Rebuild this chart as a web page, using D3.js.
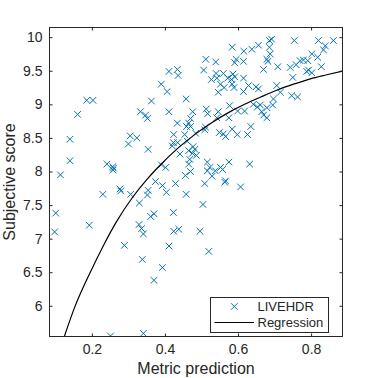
<!DOCTYPE html>
<html><head><meta charset="utf-8">
<script src="https://cdn.jsdelivr.net/npm/d3@7"></script>
<style>body{margin:0;background:#fff}svg{display:block}</style>
</head><body><svg id="c" width="378" height="378"></svg>
<script>
const metricPred = [
0.114,0.140,0.140,0.161,0.186,0.203,0.241,0.257,0.259,0.258,0.300,0.305,0.323,0.333,0.347,0.352,0.354,0.363,0.277,0.279,
0.230,0.306,0.101,0.098,0.193,0.330,0.352,0.354,0.329,0.336,0.341,0.361,0.370,0.289,0.338,0.251,0.341,
0.584,0.616,0.512,0.539,0.595,0.615,0.591,0.411,0.434,0.436,0.506,0.540,0.560,0.586,0.527,0.542,0.572,0.582,0.591,0.615,
0.552,0.584,0.589,0.562,0.546,0.615,0.390,0.406,0.458,0.411,0.476,0.513,0.517,0.546,0.577,0.575,0.599,0.470,0.542,0.434,
0.465,0.459,0.470,0.511,0.509,0.584,0.549,0.566,0.560,0.598,0.424,0.454,0.484,0.423,0.420,0.435,0.461,0.477,0.482,0.465,
0.441,0.475,0.486,0.468,0.465,0.516,0.575,0.523,0.552,0.558,0.516,0.538,0.402,0.390,0.470,0.456,0.529,0.566,0.374,0.393,
0.429,0.509,0.564,0.607,0.404,0.458,0.504,0.423,0.424,0.438,0.496,0.411,0.520,0.393,0.370,
0.754,0.686,0.692,0.820,0.861,0.656,0.638,0.686,0.688,0.839,0.834,0.679,0.682,0.670,0.709,0.743,0.759,0.770,0.779,0.791,
0.802,0.818,0.828,0.793,0.788,0.802,0.750,0.629,0.649,0.656,0.706,0.716,0.697,0.695,0.747,0.763,0.618,0.642,0.653,0.661,
0.665,0.679,0.670,0.679,0.635,0.626,0.632];
const subjectiveScore = [
7.95,8.16,8.48,8.85,9.06,9.06,8.11,8.07,8.05,8.02,8.41,8.53,8.50,8.89,8.84,8.79,8.33,9.05,7.74,7.71,
7.66,7.66,7.38,7.10,7.20,7.53,7.65,7.72,7.21,7.15,7.07,7.33,7.37,6.90,6.69,5.55,5.59,
9.85,9.79,9.67,9.63,9.67,9.64,9.62,9.49,9.52,9.43,9.51,9.46,9.46,9.45,9.37,9.39,9.39,9.37,9.41,9.39,
9.30,9.30,9.25,9.25,9.18,9.19,9.30,9.19,9.08,8.89,8.89,8.93,8.86,8.89,8.98,8.80,8.90,8.79,8.80,8.72,
8.72,8.67,8.67,8.66,8.62,8.63,8.58,8.52,8.56,8.55,8.55,8.55,8.57,8.43,8.38,8.43,8.45,8.37,8.33,8.31,
8.26,8.27,8.24,8.18,8.11,8.14,8.14,8.06,8.06,8.03,8.01,8.01,8.06,8.10,8.00,7.94,7.93,7.86,7.85,7.79,
7.82,7.82,7.84,7.77,7.69,7.66,7.51,7.39,7.11,7.14,7.11,6.89,6.81,6.57,6.38,
9.95,9.95,9.97,9.95,9.95,9.88,9.82,9.85,9.75,9.87,9.81,9.67,9.64,9.52,9.56,9.55,9.59,9.65,9.66,9.65,
9.75,9.70,9.56,9.51,9.49,9.47,9.40,9.28,9.26,9.23,9.28,9.18,9.08,8.99,9.13,9.11,8.90,9.00,8.96,8.99,
8.89,8.95,8.84,8.80,8.67,8.55,8.11];
const regressionX = [0.125,0.153,0.201,0.230,0.267,0.312,0.352,0.388,0.434,0.484,0.529,0.575,0.618,0.661,0.706,0.752,0.798,0.843,0.886];
const regressionY = [5.55,5.98,6.56,6.88,7.25,7.62,7.89,8.10,8.34,8.56,8.73,8.88,9.00,9.105,9.21,9.30,9.38,9.44,9.495];
const xTicks = [0.2,0.4,0.6,0.8];
const yTicks = [6,6.5,7,7.5,8,8.5,9,9.5,10];
const xLimits = [0.084,0.886];
const yLimits = [5.543,10.144];
const legendLabels = ["LIVEHDR","Regression"];

const svg = d3.select("#c");
const L=49.5,R=342.5,T=27.5,B=336.5;
const x = d3.scaleLinear().domain(xLimits).range([L,R]);
const y = d3.scaleLinear().domain(yLimits).range([B,T]);
const axisCol="#262626", font="'Liberation Sans', Arial, Helvetica, sans-serif";
const blue="#0072BD";

svg.append("defs").append("clipPath").attr("id","clip").append("rect")
  .attr("x",L).attr("y",T).attr("width",R-L).attr("height",B-T);

const plot = svg.append("g").attr("clip-path","url(#clip)");
const s=3.3;
plot.selectAll("path.pt").data(metricPred.map((v,i)=>[v,subjectiveScore[i]])).join("path")
  .attr("class","pt")
  .attr("d",d=>{const cx=x(d[0]),cy=y(d[1]);return `M${cx-s},${cy-s}L${cx+s},${cy+s}M${cx-s},${cy+s}L${cx+s},${cy-s}`;})
  .attr("stroke",blue).attr("stroke-width",1).attr("fill","none");

plot.append("path").datum(regressionX.map((v,i)=>[v,regressionY[i]]))
  .attr("d",d3.line().x(d=>x(d[0])).y(d=>y(d[1])).curve(d3.curveMonotoneX))
  .attr("fill","none").attr("stroke","#000").attr("stroke-width",1.2);

// axes
const tl=3;
const gx = svg.append("g").attr("transform",`translate(0,${B})`)
  .call(d3.axisBottom(x).tickValues(xTicks).tickSizeInner(-tl).tickSizeOuter(0).tickPadding(8).tickFormat(d=>String(d)));
const gy = svg.append("g").attr("transform",`translate(${L},0)`)
  .call(d3.axisLeft(y).tickValues(yTicks).tickSizeInner(-tl).tickSizeOuter(0).tickPadding(7).tickFormat(d=>String(d)));
const gxt = svg.append("g").attr("transform",`translate(0,${T})`)
  .call(d3.axisTop(x).tickValues(xTicks).tickSizeInner(-tl).tickSizeOuter(0).tickFormat(""));
const gyr = svg.append("g").attr("transform",`translate(${R},0)`)
  .call(d3.axisRight(y).tickValues(yTicks).tickSizeInner(-tl).tickSizeOuter(0).tickFormat(""));
[gx,gy,gxt,gyr].forEach(g=>{
  g.select(".domain").remove();
  g.selectAll("line").attr("stroke",axisCol);
  g.selectAll("text").attr("fill",axisCol).style("font-family",font).style("font-size","14px");
});
svg.append("rect").attr("x",L).attr("y",T).attr("width",R-L).attr("height",B-T)
  .attr("fill","none").attr("stroke",axisCol).attr("stroke-width",1);

svg.append("text").attr("x",(L+R)/2).attr("y",374).attr("text-anchor","middle")
  .attr("fill",axisCol).style("font-family",font).style("font-size","16px").text("Metric prediction");
svg.append("text").attr("transform",`translate(15,${(T+B)/2}) rotate(-90)`).attr("text-anchor","middle")
  .attr("fill",axisCol).style("font-family",font).style("font-size","16px").text("Subjective score");

// legend
const lg = svg.append("g");
lg.append("rect").attr("x",210.5).attr("y",297.5).attr("width",118).attr("height",35)
  .attr("fill","#fff").attr("stroke",axisCol).attr("stroke-width",1);
const mx=234.3,my=306.5;
lg.append("path").attr("d",`M${mx-s},${my-s}L${mx+s},${my+s}M${mx-s},${my+s}L${mx+s},${my-s}`)
  .attr("stroke",blue).attr("fill","none").attr("stroke-width",1);
lg.append("line").attr("x1",214.5).attr("x2",254).attr("y1",322.5).attr("y2",322.5).attr("stroke","#000").attr("stroke-width",1.2);
lg.selectAll("text.l").data(legendLabels).join("text").attr("class","l")
  .attr("x",257.5).attr("y",(d,i)=>311+i*16).attr("fill",axisCol)
  .style("font-family",font).style("font-size","13px").text(d=>d);
</script></body></html>
